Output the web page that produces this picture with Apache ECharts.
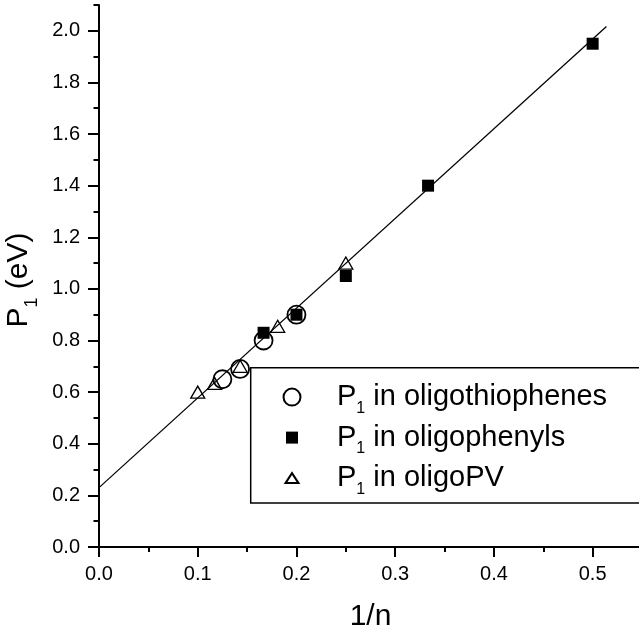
<!DOCTYPE html>
<html>
<head>
<meta charset="utf-8">
<script src="https://cdn.jsdelivr.net/npm/echarts@6/dist/echarts.min.js"></script>
<style>
  html, body { margin: 0; padding: 0; background: #fff; }
  #chart { width: 639px; height: 625px; }
</style>
</head>
<body>
<div id="chart"></div>
<script>
// ---- data ----
const thioX = [0.2, 0.1667, 0.1429, 0.125];
const thioY = [0.90, 0.80, 0.69, 0.65];
const phenX = [0.5, 0.3333, 0.25, 0.2, 0.1667];
const phenY = [1.95, 1.40, 1.05, 0.90, 0.83];
const pvX = [0.100, 0.117, 0.143, 0.181, 0.250];
const pvY = [0.60, 0.634, 0.70, 0.855, 1.10];
const fitX = [0, 0.514];
const fitY = [0.23, 2.017];
const seriesNames = ['oligothiophenes', 'oligophenyls', 'oligoPV'];
const yMajorTicks = [0, 0.2, 0.4, 0.6, 0.8, 1.0, 1.2, 1.4, 1.6, 1.8, 2.0];

const zip = (xs, ys) => xs.map((x, i) => [x, ys[i]]);
const FONT = 'Liberation Sans, Arial, sans-serif';

const chart = echarts.init(document.getElementById('chart'));
const axisLineStyle = { color: '#000', width: 2 };

chart.setOption({
  animation: false,
  backgroundColor: '#fff',
  grid: { left: 99, top: 5, width: 543, height: 542, containLabel: false, outerBoundsMode: 'none' },
  xAxis: [
    {
      type: 'value', min: 0, max: 0.55, interval: 0.1, position: 'bottom',
      axisLine: { show: true, lineStyle: axisLineStyle },
      axisTick: { show: true, length: 10, lineStyle: axisLineStyle },
      axisLabel: { show: true, margin: 17, showMaxLabel: false, color: '#000', fontSize: 20, fontFamily: FONT,
                   formatter: v => v.toFixed(1) },
      splitLine: { show: false },
      name: '1/n', nameLocation: 'middle', nameGap: 55,
      nameTextStyle: { color: '#000', fontSize: 30, fontFamily: FONT }
    },
    {
      type: 'value', min: 0, max: 0.55, interval: 0.05, position: 'bottom', offset: 0,
      axisLine: { show: false },
      axisTick: { show: true, length: 5, lineStyle: axisLineStyle },
      axisLabel: { show: false },
      splitLine: { show: false }
    }
  ],
  yAxis: [
    {
      type: 'value', min: 0, max: 2.1, interval: 0.2, position: 'left',
      axisLine: { show: true, lineStyle: axisLineStyle },
      axisTick: { show: true, length: 11, lineStyle: axisLineStyle, customValues: yMajorTicks },
      axisLabel: { show: true, margin: 19, color: '#000', fontSize: 20, fontFamily: FONT,
                   customValues: yMajorTicks, formatter: v => v.toFixed(1) },
      splitLine: { show: false },
      name: '{p|P}{s|1}{t| (eV)}', nameLocation: 'middle', nameGap: 48,
      nameTextStyle: {
        color: '#000', fontFamily: FONT, padding: [0, 8, 0, 0],
        rich: {
          p: { fontSize: 30, lineHeight: 45, fontFamily: FONT, color: '#000', verticalAlign: 'middle' },
          t: { fontSize: 30, lineHeight: 45, fontFamily: FONT, color: '#000', verticalAlign: 'middle' },
          s: { fontSize: 18, lineHeight: 45, fontFamily: FONT, color: '#000', verticalAlign: 'bottom' }
        }
      }
    },
    {
      type: 'value', min: 0, max: 2.1, interval: 0.1, position: 'left', offset: 0,
      axisLine: { show: false },
      axisTick: { show: true, length: 5.5, lineStyle: axisLineStyle },
      axisLabel: { show: false },
      splitLine: { show: false }
    }
  ],
  legend: {
    orient: 'vertical',
    left: 250.7, top: 367.7,
    padding: [10.4, 420, 6, 31.3],
    borderColor: '#000', borderWidth: 1.5,
    itemWidth: 80, itemHeight: 18, itemGap: 2.5,
    selectedMode: false,
    data: [
      { name: seriesNames[0], icon: 'path://M0,0M18,18M0.5,9A8.5,8.5,0,1,1,17.5,9A8.5,8.5,0,1,1,0.5,9Z',
        itemStyle: { opacity: 1 } },
      { name: seriesNames[1], icon: 'path://M0,0M18,18M3,3L15,3L15,15L3,15Z',
        itemStyle: { opacity: 1 } },
      { name: seriesNames[2], icon: 'path://M0,0M18,18M9,4L15.5,14L2.5,14Z',
        itemStyle: { opacity: 1 } }
    ],
    formatter: name => '{p|P}{s|1}{t| in ' + name + '}',
    textStyle: {
      color: '#000', fontFamily: FONT,
      rich: {
        p: { fontSize: 29, lineHeight: 38, fontFamily: FONT, color: '#000', verticalAlign: 'middle' },
        t: { fontSize: 29, lineHeight: 38, fontFamily: FONT, color: '#000', verticalAlign: 'middle' },
        s: { fontSize: 16, lineHeight: 38, fontFamily: FONT, color: '#000', verticalAlign: 'top', padding: [22, 0, 0, 0] }
      }
    }
  },
  series: [
    {
      name: 'fit', type: 'line', xAxisIndex: 0, yAxisIndex: 0,
      data: zip(fitX, fitY), symbol: 'none', silent: true,
      lineStyle: { color: '#000', width: 1.3 }
    },
    {
      name: seriesNames[0], type: 'scatter', xAxisIndex: 0, yAxisIndex: 0,
      data: zip(thioX, thioY), symbol: 'circle', symbolSize: 18,
      itemStyle: { color: 'rgba(0,0,0,0)', borderColor: '#000', borderWidth: 1.8, opacity: 1 }
    },
    {
      name: seriesNames[2], type: 'scatter', xAxisIndex: 0, yAxisIndex: 0,
      data: zip(pvX, pvY), symbol: 'triangle', symbolSize: [14, 12],
      itemStyle: { color: 'rgba(0,0,0,0)', borderColor: '#000', borderWidth: 1.3, opacity: 1 }
    },
    {
      name: seriesNames[1], type: 'scatter', xAxisIndex: 0, yAxisIndex: 0,
      data: zip(phenX, phenY), symbol: 'rect', symbolSize: 12,
      itemStyle: { color: '#000', borderWidth: 0, opacity: 1 }
    }
  ]
});
</script>
</body>
</html>
